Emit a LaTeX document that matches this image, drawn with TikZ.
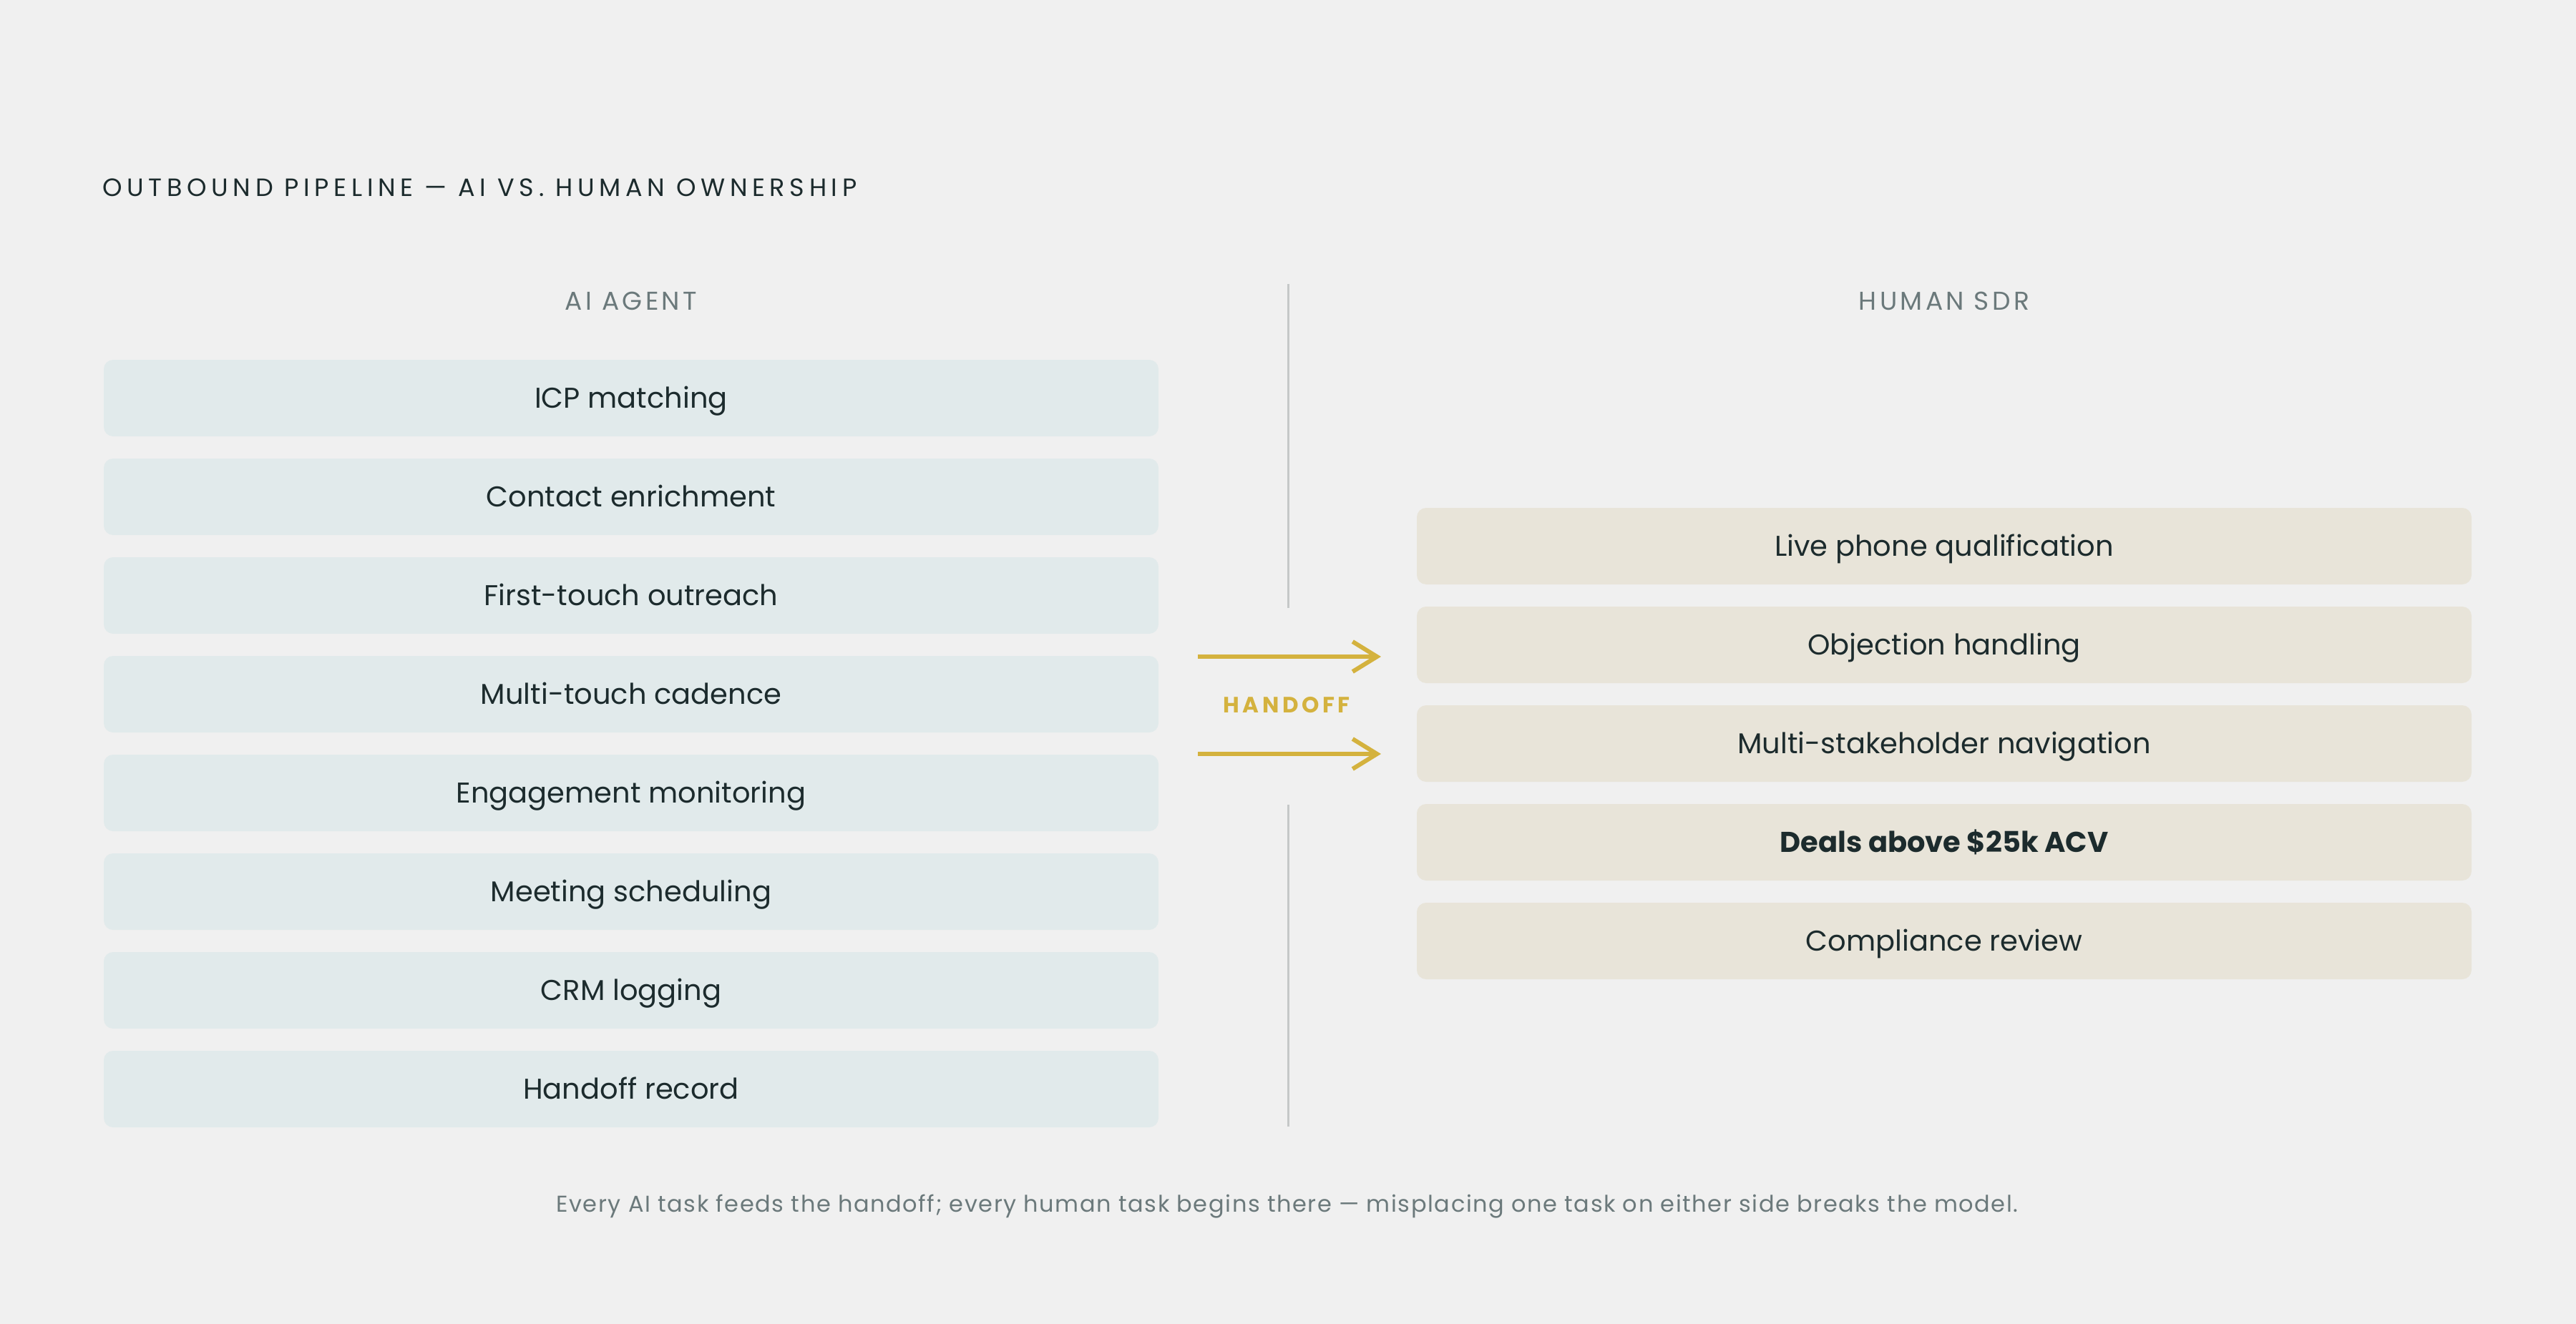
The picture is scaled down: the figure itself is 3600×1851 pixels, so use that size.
\documentclass[tikz,border=0pt]{standalone}
\usepackage{fontspec}
\setmainfont{Poppins}
\newfontfamily\titlefont[LetterSpace=19]{Poppins}
\newfontfamily\headfont[LetterSpace=12]{Poppins}
\newfontfamily\handfont[LetterSpace=15]{Poppins}
\newfontfamily\footfont[LetterSpace=5]{Poppins}
\usetikzlibrary{arrows.meta}
\definecolor{bgc}{HTML}{F0F0F0}
\definecolor{aifill}{HTML}{E1EAEB}
\definecolor{hufill}{HTML}{E8E4D9}
\definecolor{ink}{HTML}{1C2B2D}
\definecolor{muted}{HTML}{6B797B}
\definecolor{divc}{HTML}{C5C8C8}
\definecolor{gold}{HTML}{D4B23E}
\tikzset{
  taskbox/.style={minimum width=1474pt, minimum height=107pt, inner sep=0pt,
    text height=28pt, text depth=0pt,
    rounded corners=13pt, text=ink, font=\fontsize{40}{48}\selectfont},
  aibox/.style={taskbox, fill=aifill},
  hubox/.style={taskbox, fill=hufill},
  colhead/.style={text=muted, font=\headfont\fontsize{36}{42}\selectfont, inner sep=0pt,
    text height=25pt, text depth=0pt},
  divider/.style={draw=divc, line width=3pt},
  handarrow/.style={draw=gold, line width=6pt, -{Straight Barb[length=34pt, width=42pt]}}
}
\begin{document}
\begin{tikzpicture}[x=1pt,y=-1pt]
\fill[bgc] (0,0) rectangle (3600,1851);
\useasboundingbox (0,0) rectangle (3600,1851);

\node[anchor=west, inner sep=0pt, text height=25pt, text depth=0pt, text=ink, font=\titlefont\fontsize{35}{40}\selectfont] (title) at (143,262) {OUTBOUND PIPELINE — AI VS. HUMAN OWNERSHIP};

\node[colhead] (hai) at (882,421) {AI AGENT};
\node[colhead] (hhu) at (2717,421) {HUMAN SDR};

\node[aibox] (a1) at (882,556.5) {ICP matching};
\node[aibox] (a2) at (882,694.5) {Contact enrichment};
\node[aibox] (a3) at (882,832.5) {First-touch outreach};
\node[aibox] (a4) at (882,970.5) {Multi-touch cadence};
\node[aibox] (a5) at (882,1108.5) {Engagement monitoring};
\node[aibox] (a6) at (882,1246.5) {Meeting scheduling};
\node[aibox] (a7) at (882,1384.5) {CRM logging};
\node[aibox] (a8) at (882,1522.5) {Handoff record};

\node[hubox] (h1) at (2717,763.5) {Live phone qualification};
\node[hubox] (h2) at (2717,901.5) {Objection handling};
\node[hubox] (h3) at (2717,1039.5) {Multi-stakeholder navigation};
\node[hubox] (h4) at (2717,1177.5) {\bfseries Deals above \$25k ACV};
\node[hubox] (h5) at (2717,1315.5) {Compliance review};

\coordinate (d1) at (1800,397);
\coordinate (d2) at (1800,850);
\coordinate (d3) at (1800,1125);
\coordinate (d4) at (1800,1575);
\draw[divider] (d1) -- (d2);
\draw[divider] (d3) -- (d4);

\coordinate (s1) at (1674,918);
\coordinate (e1) at (1930,918);
\coordinate (s2) at (1674,1054);
\coordinate (e2) at (1930,1054);
\draw[handarrow] (s1) -- (e1);
\draw[handarrow] (s2) -- (e2);
\node[text=gold, inner sep=0pt, text height=22pt, text depth=0pt, font=\handfont\bfseries\fontsize{31}{36}\selectfont] (hand) at (1798,985) {HANDOFF};

\node[text=muted, inner sep=0pt, text height=22pt, text depth=0pt, font=\footfont\fontsize{32}{38}\selectfont] (foot) at (1799,1683) {Every AI task feeds the handoff; every human task begins there — misplacing one task on either side breaks the model.};
\end{tikzpicture}
\end{document}
